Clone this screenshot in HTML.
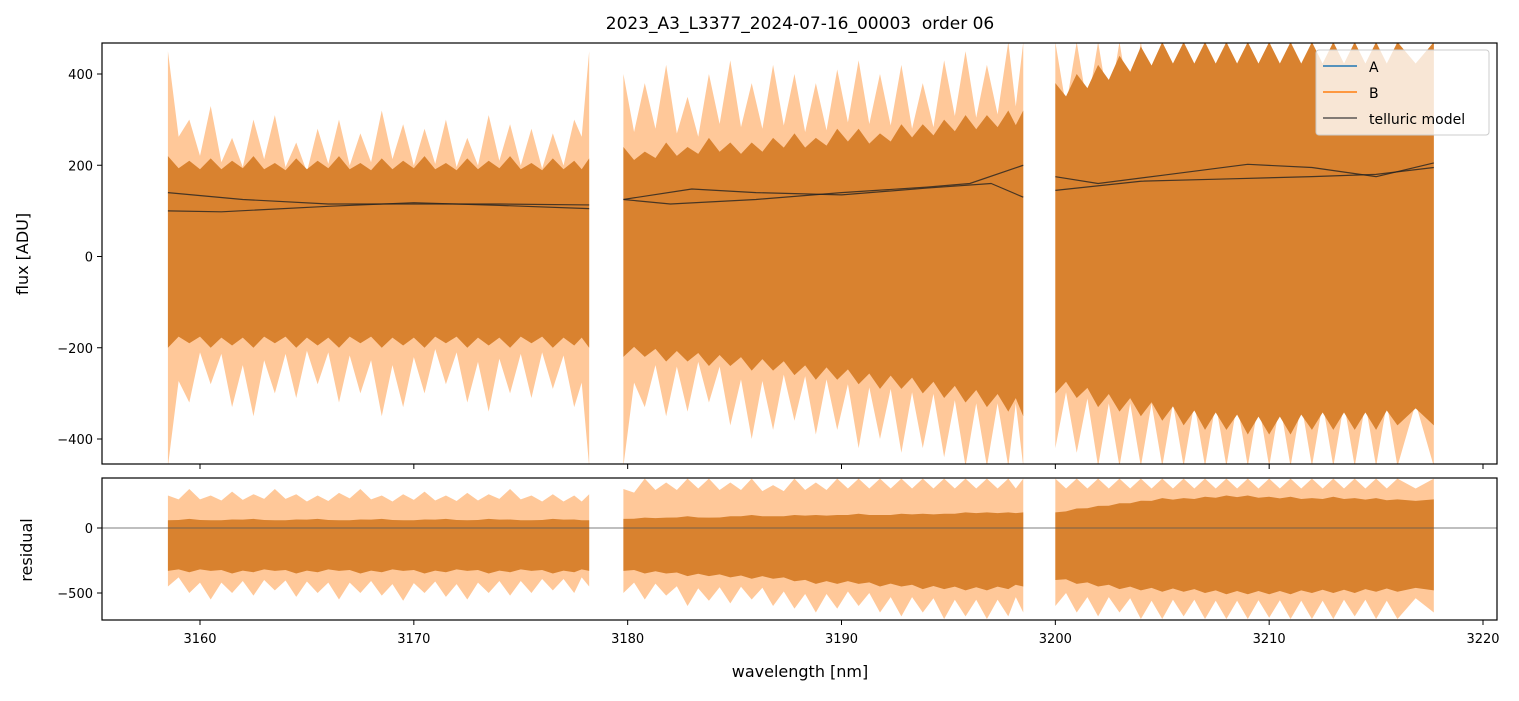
<!DOCTYPE html>
<html><head><meta charset="utf-8"><style>
body{margin:0;background:#fff;font-family:"Liberation Sans","DejaVu Sans",sans-serif}
svg text{font-family:"DejaVu Sans","Liberation Sans",sans-serif}
</style></head><body>
<svg id="c" width="1519" height="696" viewBox="0 0 1519 696" xmlns="http://www.w3.org/2000/svg">
<defs>
<clipPath id="cpTop"><rect x="102" y="43" width="1395" height="421"/></clipPath>
<clipPath id="cpBot"><rect x="102" y="478" width="1395" height="142"/></clipPath>
</defs>
<text x="800" y="29" font-size="17" text-anchor="middle" style="white-space:pre">2023_A3_L3377_2024-07-16_00003&#160; order 06</text>
<g id="topPanel" clip-path="url(#cpTop)"></g>
<g id="botPanel" clip-path="url(#cpBot)"></g>
<g id="axes"></g>
<text x="28" y="254" font-size="16" text-anchor="middle" transform="rotate(-90 28 254)">flux [ADU]</text>
<text x="32" y="550" font-size="16" text-anchor="middle" transform="rotate(-90 32 550)">residual</text>
<text x="800" y="677" font-size="16" text-anchor="middle">wavelength [nm]</text>
<g id="legend">
<rect x="1316" y="50" width="173" height="85" rx="3" fill="#fff" fill-opacity="0.8" stroke="#ccc"/>
<line x1="1323" y1="66" x2="1357" y2="66" stroke="#1f77b4" stroke-width="1.5"/>
<text x="1369" y="72" font-size="14">A</text>
<line x1="1323" y1="92" x2="1357" y2="92" stroke="#ff7f0e" stroke-width="1.5"/>
<text x="1369" y="98" font-size="14">B</text>
<line x1="1323" y1="118" x2="1357" y2="118" stroke="#333" stroke-width="1.5" opacity="0.8"/>
<text x="1369" y="124" font-size="14">telluric model</text>
</g>
</svg>
<script>
const segStart=[3158.5,3179.8,3200.0];
const segEnd=[3178.2,3198.5,3217.7];
const outerHi=[[450,300,330,260,300,310,250,280,300,270,320,290,280,300,260,310,290,280,270,300,450],
 [400,380,420,350,400,430,380,420,400,380,410,430,400,420,380,430,450,420,470,470],
 [470,470,470,470,470,470,470,470,470,470,470,470,470,470,470,470,470,470]];
const outerLo=[[-460,-320,-280,-330,-350,-300,-310,-280,-320,-300,-350,-330,-300,-280,-320,-340,-300,-310,-290,-330,-460],
 [-460,-330,-350,-340,-320,-370,-400,-380,-360,-390,-380,-420,-400,-430,-420,-440,-460,-460,-460,-460],
 [-420,-430,-460,-460,-460,-460,-460,-460,-460,-460,-460,-460,-460,-460,-460,-460,-460,-460]];
const coreHi=[[220,210,215,210,220,205,215,210,220,205,215,210,220,205,215,210,220,205,215,210,215],
 [240,230,250,240,260,250,250,260,270,260,280,280,270,290,290,300,310,310,320,320],
 [380,400,420,440,460,470,470,470,470,470,470,470,470,470,470,470,470,470]];
const coreLo=[[-200,-190,-200,-195,-200,-190,-200,-195,-200,-190,-200,-195,-200,-190,-200,-195,-200,-190,-200,-195,-200],
 [-220,-220,-230,-230,-240,-240,-250,-250,-260,-270,-270,-280,-290,-290,-300,-310,-320,-330,-340,-350],
 [-300,-310,-330,-340,-350,-360,-370,-380,-380,-390,-390,-390,-380,-380,-380,-380,-370,-370]];
const rOuterHi=[[250,300,250,280,260,300,260,250,270,300,250,260,280,250,270,260,300,250,260,250,260],
 [300,380,350,380,380,350,380,330,380,350,380,380,380,380,380,380,380,380,380,380],
 [380,380,380,380,380,380,380,380,380,380,380,380,380,380,380,380,380,380]];
const rOuterLo=[[-450,-500,-550,-500,-520,-480,-530,-500,-550,-500,-520,-560,-500,-530,-550,-500,-520,-500,-480,-500,-450],
 [-500,-550,-520,-600,-560,-580,-550,-600,-620,-650,-620,-600,-650,-680,-650,-700,-680,-700,-680,-650],
 [-600,-650,-680,-650,-700,-700,-680,-700,-700,-700,-690,-700,-700,-700,-680,-700,-700,-650]];
const rCoreHi=[[60,70,60,65,70,60,65,70,60,65,70,60,65,70,60,70,65,60,70,65,60],
 [70,80,80,90,80,90,100,90,100,100,100,110,100,110,110,110,120,120,120,120],
 [120,150,170,190,210,230,230,240,250,250,240,240,230,240,230,230,220,220]];
const rCoreLo=[[-330,-340,-330,-350,-340,-330,-350,-340,-330,-350,-340,-330,-350,-340,-330,-350,-340,-330,-350,-340,-330],
 [-330,-350,-350,-370,-370,-380,-390,-390,-410,-430,-430,-430,-450,-450,-470,-470,-480,-480,-470,-450],
 [-400,-430,-450,-470,-480,-490,-490,-500,-510,-510,-510,-510,-500,-500,-500,-490,-490,-480]];
const tellA=[[3158.5,140],[3162,125],[3166,115],[3170,115],[3174,115],[3178.2,113],
 null,[3179.8,125],[3183,148],[3186,140],[3190,135],[3194,150],[3197,160],[3198.5,130],
 null,[3200,175],[3202,160],[3205,178],[3209,202],[3212,195],[3215,175],[3217.7,205]];
const tellB=[[3158.5,100],[3161,98],[3166,110],[3170,118],[3174,112],[3178.2,105],
 null,[3179.8,125],[3182,115],[3186,125],[3190,140],[3194,152],[3196,160],[3198.5,200],
 null,[3200,145],[3204,165],[3208,170],[3212,175],[3215,180],[3217.7,195]];
const xTicks=[3160,3170,3180,3190,3200,3210,3220];
const yTicks=[-400,-200,0,200,400];
const rTicks=[-500,0];

const NS="http://www.w3.org/2000/svg";
const xs=w=>200+(w-3160)*1283/60;
const yT=v=>256.5-v*0.45625;
const yB=v=>528-v*0.13;
function mk(tag,attrs,parent){const e=document.createElementNS(NS,tag);for(const k in attrs)e.setAttribute(k,attrs[k]);parent.appendChild(e);return e;}
function wls(s,n){const a=[];for(let i=0;i<n;i++){a.push(i===n-1?segEnd[s]:(i===0?segStart[s]:segStart[s]+i));}return a;}
function band(g,s,hi,lo,yf,fill,op,dip,name){
  const w=wls(s,hi.length);
  let pts=[];
  for(let i=0;i<w.length;i++){pts.push(xs(w[i])+','+yf(hi[i]));if(i<w.length-1){const m=(w[i]+w[i+1])/2;pts.push(xs(m)+','+yf((hi[i]+hi[i+1])/2*dip));}}
  for(let i=w.length-1;i>=0;i--){pts.push(xs(w[i])+','+yf(lo[i]));if(i>0){const m=(w[i]+w[i-1])/2;pts.push(xs(m)+','+yf((lo[i]+lo[i-1])/2*dip));}}
  const p=mk('polygon',{points:pts.join(' '),fill:fill,'fill-opacity':op},g);
  
  
}
const topG=document.getElementById('topPanel'),botG=document.getElementById('botPanel');
for(let s=0;s<3;s++){
  band(topG,s,outerHi[s],outerLo[s],yT,'#ff9b45',0.55,0.7,'flux-spike-band-'+s);
  band(topG,s,coreHi[s],coreLo[s],yT,'#d9822f',1,0.9,'flux-core-band-'+s);
  band(botG,s,rOuterHi[s],rOuterLo[s],yB,'#ff9b45',0.55,0.8,'residual-spike-band-'+s);
  band(botG,s,rCoreHi[s],rCoreLo[s],yB,'#d9822f',1,0.95,'residual-core-band-'+s);
}
function curve(arr,name){
  let d='',start=true;
  arr.forEach(p=>{if(!p){start=true;return;}d+=(start?'M':'L')+xs(p[0])+' '+yT(p[1])+' ';start=false;});
  const e=mk('path',{d:d,fill:'none',stroke:'#222',"stroke-width":1.2,opacity:0.8,'stroke-linejoin':'round'},topG);
  
  
}
curve(tellA,'telluric-model-a');curve(tellB,'telluric-model-b');
mk('line',{x1:102,x2:1497,y1:yB(0),y2:yB(0),stroke:'#555','stroke-width':0.8},botG);
const ax=document.getElementById('axes');
mk('rect',{x:102,y:43,width:1395,height:421,fill:'none',stroke:'#000','stroke-width':1.2},ax);
mk('rect',{x:102,y:478,width:1395,height:142,fill:'none',stroke:'#000','stroke-width':1.2},ax);
xTicks.forEach(t=>{const x=xs(t);
  mk('line',{x1:x,x2:x,y1:464,y2:469,stroke:'#000'},ax);
  mk('line',{x1:x,x2:x,y1:620,y2:625,stroke:'#000'},ax);
  const tx=mk('text',{x:x,y:643,'font-size':13,'text-anchor':'middle'},ax);tx.textContent=t;
  
  
});
yTicks.forEach(t=>{const y=yT(t);
  mk('line',{x1:97,x2:102,y1:y,y2:y,stroke:'#000'},ax);
  const tx=mk('text',{x:93,y:y+5,'font-size':13,'text-anchor':'end'},ax);tx.textContent=(t<0?'\u2212'+(-t):t);
  
  
});
rTicks.forEach(t=>{const y=yB(t);
  mk('line',{x1:97,x2:102,y1:y,y2:y,stroke:'#000'},ax);
  const tx=mk('text',{x:93,y:y+5,'font-size':13,'text-anchor':'end'},ax);tx.textContent=(t<0?'\u2212'+(-t):t);
  
  
});
document.getElementById('c').appendChild(document.getElementById('legend'));
</script>
</body></html>
